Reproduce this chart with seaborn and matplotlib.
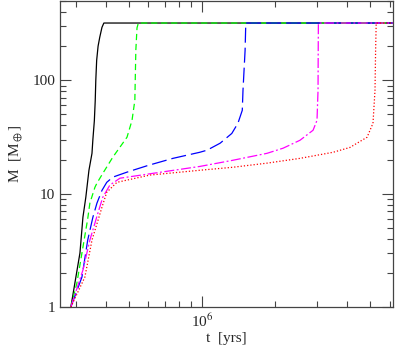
import numpy as np
import pandas as pd
import matplotlib
matplotlib.use("Agg")
import matplotlib.pyplot as plt
import seaborn as sns

# growth tracks (t in yrs, M in solar masses)
t_black = [2.86e5, 3.12e5, 3.21e5, 3.30e5, 3.40e5, 3.50e5, 3.53e5, 3.58e5, 3.61e5, 3.63e5,
           3.66e5, 3.71e5, 3.77e5, 3.85e5, 3.92e5, 7e6]
m_black = [1, 3.0, 6.2, 9.3, 16.1, 22.7, 30, 44, 66, 100, 150, 200, 240, 293, 320, 320]

t_green = [2.86e5, 3.03e5, 3.36e5, 3.43e5, 3.60e5, 3.67e5, 3.88e5, 4.27e5, 4.89e5, 5.13e5,
           5.27e5, 5.32e5, 5.38e5, 5.45e5, 7e6]
m_green = [1, 1.63, 6.0, 8.26, 11.4, 12.4, 15.1, 21, 31.5, 44.4, 66.6, 184, 290, 320, 320]

t_blue = [2.86e5, 3.18e5, 3.36e5, 3.53e5, 3.67e5, 3.85e5, 4.03e5, 4.27e5, 4.89e5, 6.0e5,
          7.58e5, 9.8e5, 1.05e6, 1.19e6, 1.33e6, 1.41e6, 1.47e6, 1.48e6, 1.51e6, 1.52e6, 7e6]
m_blue = [1, 1.84, 3.9, 6.2, 8.26, 10.7, 12.6, 14, 15.5, 17.8,
          20.5, 23.2, 24.2, 27.9, 34, 41.8, 54.4, 81.6, 184, 320, 320]

t_magenta = [2.86e5, 3.21e5, 3.43e5, 3.70e5, 3.88e5, 4.15e5, 4.57e5, 6.5e5, 9.8e5, 1.34e6,
             1.86e6, 2.17e6, 2.55e6, 2.89e6, 3.0e6, 3.03e6, 3.035e6, 3.04e6, 7e6]
m_magenta = [1, 2.12, 3.9, 6.7, 9.3, 11.9, 13.7, 15.3, 17.4, 19.7,
             22.7, 25.2, 29.6, 36.3, 44.4, 81.6, 184, 320, 320]

t_red = [2.86e5, 3.27e5, 3.50e5, 3.85e5, 4.03e5, 4.44e5, 6.08e5, 9.8e5, 1.34e6, 1.86e6,
         2.55e6, 3.50e6, 4.11e6, 4.84e6, 5.12e6, 5.22e6, 5.25e6, 5.28e6, 7e6]
m_red = [1, 1.84, 3.9, 7.6, 10.3, 12.6, 14.6, 16.1, 17.1, 18.6,
         20.5, 23.2, 25.6, 31.5, 41.8, 81.6, 184, 320, 320]

sns.set_style("ticks")
plt.rcParams['font.family'] = ['Liberation Serif', 'DejaVu Serif']
plt.rcParams['mathtext.fontset'] = 'stix'

fig = plt.figure(figsize=(3.95, 3.49), dpi=100)
ax = fig.add_axes([0.152, 0.12, 0.843, 0.877])

tracks = [
    (t_black, m_black, 'black', '-'),
    (t_green, m_green, '#00ff00', (0, (5, 3))),
    (t_blue, m_blue, '#0000ff', (0, (12, 4))),
    (t_magenta, m_magenta, '#ff00ff', (0, (8, 2, 1.5, 2))),
    (t_red, m_red, '#ff0000', (0, (1, 1.6))),
]
for t, m, col, ls in tracks:
    df = pd.DataFrame({'t': t, 'M': m})
    sns.lineplot(data=df, x='t', y='M', ax=ax, color=col, linestyle=ls,
                 linewidth=0.9, sort=False, estimator=None)

ax.set_xscale('log')
ax.set_yscale('log')
ax.set_xlim(2.58e5, 6.2e6)
ax.set_ylim(1, 500)

ax.set_yticks([1, 10, 100])
ax.set_yticklabels(['1', '10', '100'])
ax.set_xticks([1e6])
ax.set_xticklabels([r'10$^6$'])
ax.tick_params(which='both', direction='in', top=True, right=True, labelsize=11,
               color='#444444')
ax.tick_params(which='major', length=8, width=0.8)
ax.tick_params(which='minor', length=4.5, width=0.8)
ax.yaxis.set_minor_formatter(matplotlib.ticker.NullFormatter())
ax.xaxis.set_minor_formatter(matplotlib.ticker.NullFormatter())
for s in ax.spines.values():
    s.set_color('#444444')
    s.set_linewidth(0.9)

ax.set_xlabel('t  [yrs]', fontsize=11, labelpad=2)
ax.set_ylabel(r'M  [M$_\oplus$]', fontsize=11, labelpad=6)

fig.savefig('out.png', dpi=100)
